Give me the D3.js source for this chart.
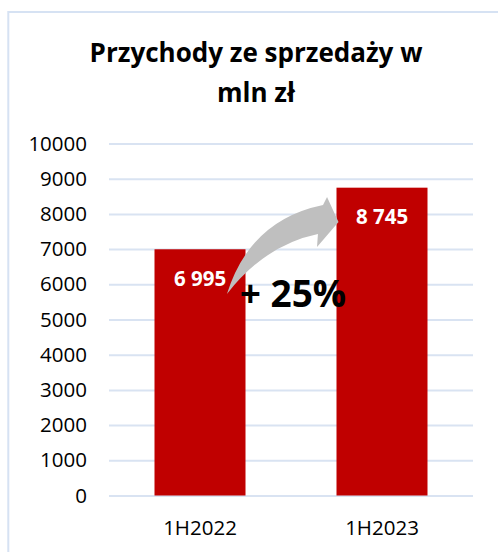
<!DOCTYPE html>
<html>
<head>
<meta charset="utf-8">
<script src="https://cdn.jsdelivr.net/npm/d3@7"></script>
<style>
  body { margin: 0; background: #fff; overflow: hidden; }
  svg { display: block; }
  text { font-family: "Open Sans", "Noto Sans", sans-serif; }
</style>
</head>
<body>
<div id="chart"></div>
<script>
const titleLines = ["Przychody ze sprzedaży w", "mln zł"];
const categories = ["1H2022", "1H2023"];
const values = [6995, 8745];
const valueLabels = ["6 995", "8 745"];
const yTicks = [0, 1000, 2000, 3000, 4000, 5000, 6000, 7000, 8000, 9000, 10000];
const growthLabel = "+ 25%";

// arrow outline, u = 0 at first bar centre, 1 at second; v in mln zł
const arrowUpper = [[0.148, 5724], [0.275, 7827], [0.676, 8253]];
const arrowHead = [[0.698, 8480], [0.761, 7770], [0.643, 7060], [0.648, 7429]];
const arrowLower = [[0.357, 7116], [0.148, 5724]];
const growthPos = [0.511, 5355];

const width = 498, height = 552;
const margin = { top: 143.5, right: 25, bottom: 56.5, left: 109 };
const innerWidth = width - margin.left - margin.right;
const innerHeight = height - margin.top - margin.bottom;

const svg = d3.select("#chart").append("svg")
  .attr("width", width)
  .attr("height", height);

// chart frame, runs off the right and bottom edge like the screenshot
svg.append("path")
  .attr("d", `M${width},12 H8.3 V${height}`)
  .attr("fill", "none")
  .attr("stroke", "#d6e2f3")
  .attr("stroke-width", 2);

svg.selectAll("text.title")
  .data(titleLines)
  .join("text")
  .attr("class", "title")
  .attr("x", 256)
  .attr("y", (d, i) => 62 + i * 40)
  .attr("text-anchor", "middle")
  .style("font-size", "26px")
  .style("font-weight", "bold")
  .attr("fill", "#000")
  .text(d => d);

const g = svg.append("g")
  .attr("transform", `translate(${margin.left},${margin.top})`);

const x = d3.scaleBand()
  .domain(categories)
  .range([0, innerWidth])
  .paddingInner(0.5)
  .paddingOuter(0.25);

const y = d3.scaleLinear()
  .domain([0, 10000])
  .range([innerHeight, 0]);

const yAxis = g.append("g")
  .call(d3.axisLeft(y).tickValues(yTicks).tickSize(-innerWidth).tickPadding(22).tickFormat(d3.format("d")));
yAxis.select(".domain").remove();
yAxis.selectAll(".tick line").attr("stroke", "#d9e3f2").attr("stroke-width", 2);
yAxis.selectAll(".tick text")
  .style("font-size", "20.5px")
  .style("font-family", "'Open Sans', sans-serif")
  .attr("fill", "#000");

g.selectAll("rect.bar")
  .data(categories)
  .join("rect")
  .attr("class", "bar")
  .attr("x", d => x(d))
  .attr("y", (d, i) => y(values[i]))
  .attr("width", x.bandwidth())
  .attr("height", (d, i) => innerHeight - y(values[i]))
  .attr("fill", "#c00000");

g.selectAll("text.vlabel")
  .data(categories)
  .join("text")
  .attr("class", "vlabel")
  .attr("x", d => x(d) + x.bandwidth() / 2)
  .attr("y", (d, i) => y(values[i]) + 36.5)
  .attr("text-anchor", "middle")
  .style("font-size", "20.5px")
  .style("font-weight", "bold")
  .attr("fill", "#fff")
  .text((d, i) => valueLabels[i]);

g.selectAll("text.cat")
  .data(categories)
  .join("text")
  .attr("class", "cat")
  .attr("x", d => x(d) + x.bandwidth() / 2)
  .attr("y", innerHeight + 39.5)
  .attr("text-anchor", "middle")
  .style("font-size", "20.5px")
  .attr("fill", "#000")
  .text(d => d);

// growth arrow
const c0 = x(categories[0]) + x.bandwidth() / 2;
const c1 = x(categories[1]) + x.bandwidth() / 2;
const ux = d3.scaleLinear().domain([0, 1]).range([c0, c1]);
const pt = p => `${ux(p[0])},${y(p[1])}`;

const arrowPath = `M${pt(arrowUpper[0])}` +
  `Q${pt(arrowUpper[1])} ${pt(arrowUpper[2])}` +
  arrowHead.map(p => `L${pt(p)}`).join("") +
  `Q${pt(arrowLower[0])} ${pt(arrowLower[1])}Z`;

g.append("path")
  .attr("d", arrowPath)
  .attr("fill", "#bfbfbf");

g.append("text")
  .attr("x", ux(growthPos[0]))
  .attr("y", y(growthPos[1]))
  .attr("text-anchor", "middle")
  .style("font-size", "37px")
  .style("font-weight", "bold")
  .attr("fill", "#000")
  .text(growthLabel);
</script>
</body>
</html>
